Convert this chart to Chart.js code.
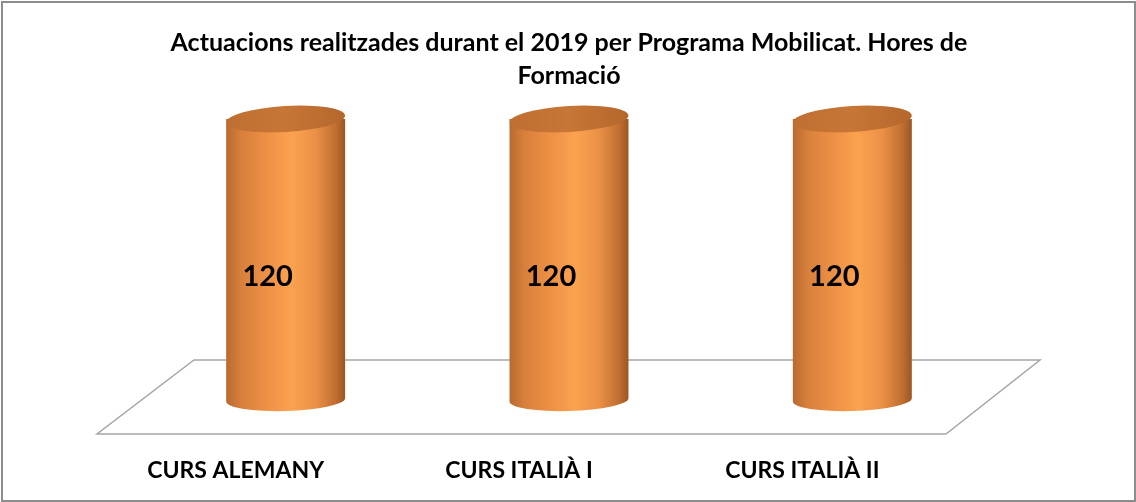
<!DOCTYPE html>
<html>
<head>
<meta charset="utf-8">
<script src="https://cdn.jsdelivr.net/npm/chart.js@4.4.1/dist/chart.umd.min.js"></script>
<style>
html,body{margin:0;padding:0;background:#fff;}
#wrap{width:1136px;height:502px;position:relative;}
</style>
</head>
<body>
<div id="wrap"><canvas id="c" width="1136" height="502"></canvas></div>
<script>
const titleLines = ["Actuacions realitzades durant el 2019 per Programa Mobilicat. Hores de", "Formació"];
const categories = ["CURS ALEMANY", "CURS ITALIÀ I", "CURS ITALIÀ II"];
const hours = [120, 120, 120];

const FONT = "Lato, 'Open Sans', sans-serif";

const borderPlugin = {
  id: 'frame',
  afterDraw(chart) {
    const ctx = chart.ctx;
    ctx.save();
    ctx.strokeStyle = '#8c8c8c';
    ctx.lineWidth = 2;
    ctx.strokeRect(2, 2, chart.width - 3, chart.height - 3);
    ctx.restore();
  }
};

const floorPlugin = {
  id: 'floor',
  beforeDatasetsDraw(chart) {
    const ctx = chart.ctx, a = chart.chartArea;
    const yb = a.bottom - 40, yf = a.bottom + 34;
    ctx.save();
    ctx.beginPath();
    ctx.moveTo(a.left + 50, yb);
    ctx.lineTo(a.right + 46, yb);
    ctx.lineTo(a.right - 48, yf);
    ctx.lineTo(a.left - 47, yf);
    ctx.closePath();
    ctx.fillStyle = '#ffffff';
    ctx.fill();
    ctx.strokeStyle = '#a6a6a6';
    ctx.lineWidth = 1.5;
    ctx.stroke();
    ctx.restore();
  }
};

const cylinderPlugin = {
  id: 'cylinders',
  afterDatasetsDraw(chart) {
    const ctx = chart.ctx;
    const meta = chart.getDatasetMeta(0);
    meta.data.forEach((el, i) => {
      const p = el.getProps(['x', 'y', 'base', 'width'], true);
      const cx = p.x, rx = p.width / 2, top = p.y, bot = p.base;
      const ryT = 13, ryB = 11;
      ctx.save();
      const g = ctx.createLinearGradient(cx - rx, 0, cx + rx, 0);
      g.addColorStop(0, '#b86a30');
      g.addColorStop(0.12, '#d77f3c');
      g.addColorStop(0.35, '#ee9146');
      g.addColorStop(0.55, '#fba24f');
      g.addColorStop(0.75, '#eb9147');
      g.addColorStop(0.92, '#c06e31');
      g.addColorStop(1, '#9a5622');
      ctx.beginPath();
      ctx.moveTo(cx - rx, top);
      ctx.lineTo(cx - rx, bot);
      ctx.ellipse(cx, bot, rx, ryB, -0.03, Math.PI, 0, true);
      ctx.lineTo(cx + rx, top);
      ctx.closePath();
      ctx.fillStyle = g;
      ctx.fill();
      const gt = ctx.createLinearGradient(cx - rx, top, cx + rx, top);
      gt.addColorStop(0, '#bf6f31');
      gt.addColorStop(0.5, '#c67636');
      gt.addColorStop(1, '#b5672c');
      ctx.beginPath();
      ctx.ellipse(cx, top, rx, ryT, -0.06, 0, Math.PI * 2);
      ctx.fillStyle = gt;
      ctx.fill();
      ctx.fillStyle = '#000';
      ctx.font = "bold 29px " + FONT;
      ctx.textAlign = 'center';
      ctx.textBaseline = 'middle';
      const v = chart.data.datasets[0].data[i];
      ctx.fillText(String(v), cx - 18, (top + bot) / 2 + 17);
      ctx.restore();
    });
  }
};

new Chart(document.getElementById('c'), {
  type: 'bar',
  data: {
    labels: categories,
    datasets: [{
      data: hours,
      backgroundColor: 'rgba(0,0,0,0)',
      borderWidth: 0,
      barPercentage: 0.42,
      categoryPercentage: 1.0
    }]
  },
  options: {
    responsive: false,
    animation: false,
    devicePixelRatio: 1,
    layout: { padding: { left: 144, right: 142, top: 0, bottom: 21 } },
    plugins: {
      legend: { display: false },
      tooltip: { enabled: false },
      title: {
        display: true,
        text: titleLines,
        color: '#000',
        font: { family: FONT, size: 25, weight: 'bold', lineHeight: 1.3 },
        padding: { top: 27, bottom: 27 }
      }
    },
    scales: {
      x: {
        grid: { display: false, drawTicks: false },
        border: { display: false },
        afterFit(scale) { scale.height = 81; },
        ticks: {
          color: '#000',
          padding: 57,
          labelOffset: -50,
          font: { family: FONT, size: 23, weight: 'bold' }
        }
      },
      y: {
        display: false,
        min: 0,
        max: 120
      }
    }
  },
  plugins: [floorPlugin, cylinderPlugin, borderPlugin]
});
</script>
</body>
</html>
